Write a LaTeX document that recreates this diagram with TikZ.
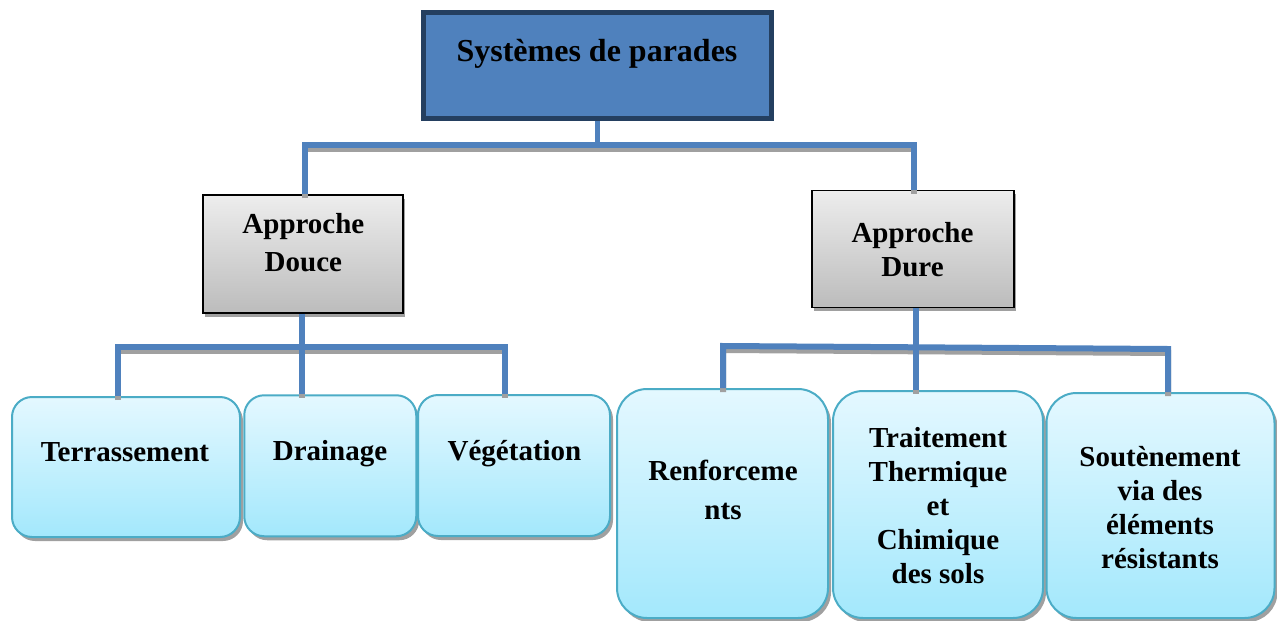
\documentclass[tikz,border=0pt]{standalone}
\usepackage{fontspec}
\setmainfont{Liberation Serif}
\usetikzlibrary{shadows}

\definecolor{accent}{HTML}{4F81BD}
\definecolor{accentdark}{HTML}{243F60}
\definecolor{linkshadow}{HTML}{A0A0A0}
\definecolor{greytop}{HTML}{EDEDED}
\definecolor{greybot}{HTML}{BCBCBC}
\definecolor{leaftop}{HTML}{E4F8FF}
\definecolor{leafbot}{HTML}{A3E8FC}
\definecolor{leafline}{HTML}{4BACC6}

\tikzset{
  rootbox/.style={draw=accentdark, line width=5pt, fill=accent, inner sep=0pt},
  approachbox/.style={draw=black, line width=1.5pt, top color=greytop, bottom color=greybot,
    inner sep=0pt, drop shadow={shadow xshift=2pt, shadow yshift=-4pt, fill=linkshadow, opacity=1}},
  leafbox/.style={draw=leafline, line width=2pt, top color=leaftop, bottom color=leafbot,
    rounded corners=20pt, inner sep=0pt,
    drop shadow={shadow xshift=3pt, shadow yshift=-4pt, fill=linkshadow, opacity=1}},
  % multi-line texts are anchored on the baseline of their last line
  boxtext/.style={font=\bfseries\fontsize{29}{34}\selectfont, align=center, anchor=base, inner sep=0pt},
  link/.style={draw=accent, line width=6pt},
  linkshade/.style={draw=linkshadow, line width=6pt, transform canvas={yshift=-4pt}},
}

\begin{document}
\begin{tikzpicture}[x=1pt, y=-1pt]
\useasboundingbox (0,0) rectangle (1277,621);

% boxes
\node[rootbox, minimum width=348pt, minimum height=106pt] (root) at (597.5,65.5) {};
\node[approachbox, minimum width=200pt, minimum height=118pt] (douce) at (303,254) {};
\node[approachbox, minimum width=202pt, minimum height=117pt] (dure) at (912.75,248.75) {};

\node[leafbox, minimum width=228pt, minimum height=140pt] (terr) at (126,467) {};
\node[leafbox, minimum width=172pt, minimum height=141pt] (drain) at (330.25,465.75) {};
\node[leafbox, minimum width=192pt, minimum height=141pt] (veg) at (514,465.5) {};

\node[leafbox, rounded corners=30pt, minimum width=211pt, minimum height=229pt] (renf) at (722.5,503.5) {};
\node[leafbox, rounded corners=30pt, minimum width=210pt, minimum height=227pt] (trait) at (938,504.5) {};
\node[leafbox, rounded corners=30pt, minimum width=228pt, minimum height=225pt] (sout) at (1160.5,505.5) {};

% texts
\node[boxtext, font=\bfseries\fontsize{32}{38}\selectfont] (t-root) at (597,61.7) {Systèmes de parades};
\node[boxtext] (t-douce) at (303.4,271.7) {Approche\\[4.7pt]Douce};
\node[boxtext] (t-dure) at (912.5,276.7) {Approche\\Dure};
\node[boxtext] (t-terr) at (125,461.7) {Terrassement};
\node[boxtext] (t-drain) at (330,460) {Drainage};
\node[boxtext] (t-veg) at (514.5,460) {Végétation};
\node[boxtext] (t-renf) at (723,519) {Renforceme\\[5pt]nts};
\node[boxtext] (t-trait) at (938,583) {Traitement\\Thermique\\et\\Chimique\\des sols};
\node[boxtext] (t-sout) at (1160,568) {Soutènement\\via des\\éléments\\résistants};

% bus points of the connectors
\coordinate (topL) at (305,145);
\coordinate (topR) at (914,145);
\coordinate (lstem) at (301.5,347);
\coordinate (lbusL) at (118,347);
\coordinate (lbusR) at (505,347);
\coordinate (rstem) at (916,346);
\coordinate (rbusL) at (723,346);
\coordinate (rbusR) at (1168,349);

% connector shadows
\begin{scope}[linkshade]
  \draw[line width=5pt] (root.south) -- (root.south |- topL);
  \draw (topL |- douce.north) -- (topL) -- (topR) -- (topR |- dure.north);
  \draw (lstem |- douce.south) -- (lstem |- drain.north);
  \draw (lbusL |- terr.north) -- (lbusL) -- (lbusR) -- (lbusR |- veg.north);
  \draw (rstem |- dure.south) -- (rstem |- trait.north);
  \draw (rbusL |- renf.north) -- (rbusL) -- (rbusR) -- (rbusR |- sout.north);
\end{scope}

% connectors
\begin{scope}[link]
  \draw[line width=5pt] (root.south) -- (root.south |- topL);
  \draw (topL |- douce.north) -- (topL) -- (topR) -- (topR |- dure.north);
  \draw (lstem |- douce.south) -- (lstem |- drain.north);
  \draw (lbusL |- terr.north) -- (lbusL) -- (lbusR) -- (lbusR |- veg.north);
  \draw (rstem |- dure.south) -- (rstem |- trait.north);
  \draw (rbusL |- renf.north) -- (rbusL) -- (rbusR) -- (rbusR |- sout.north);
\end{scope}
\end{tikzpicture}
\end{document}
